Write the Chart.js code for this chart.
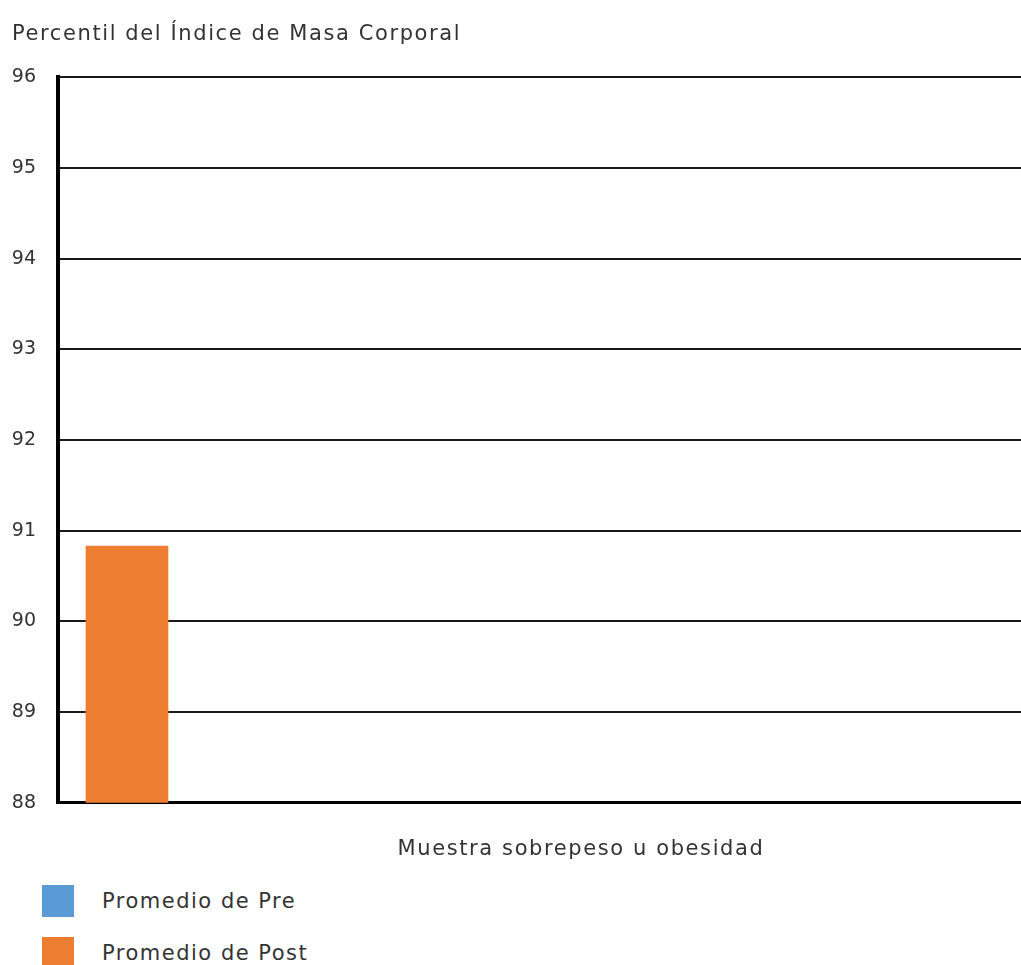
<!DOCTYPE html>
<html>
<head>
<meta charset="utf-8">
<script src="https://cdn.jsdelivr.net/npm/chart.js@4"></script>
<style>
  body { margin: 0; background: #fff; overflow: hidden; font-family: 'DejaVu Sans', Verdana, sans-serif; }
  #wrap { position: relative; width: 1110px; height: 875px; }
  #legend { position: absolute; left: 42px; top: 885px; }
  .item { display: flex; align-items: center; height: 32px; margin-bottom: 20px; color: #333; font-size: 21px; letter-spacing: 1.5px; }
  .swatch { width: 32px; height: 32px; margin-right: 28px; }
</style>
</head>
<body>
<div id="wrap"><canvas id="bmiChart"></canvas></div>
<div id="legend"></div>
<script>
// chart data
const categories = ['Muestra sobrepeso u obesidad'];
const seriesNames = ['Promedio de Pre', 'Promedio de Post'];
const seriesColors = ['#5B9BD5', '#ED7D31'];
const preValues = [null];
const postValues = [90.83];
const yMin = 88;
const yMax = 96;

const toPoints = values => values.map((v, i) => ({ x: i + 0.5, y: v }));

const textColor = '#333';
const family = "'DejaVu Sans', Verdana, sans-serif";
const labelFont = { family, size: 21 };
const tickFont = { family, size: 19 };

// the original labels are set a little wider than the tick numbers
const wideText = {
  id: 'wideText',
  beforeDraw: chart => { chart.ctx.letterSpacing = '1.6px'; },
  beforeDatasetsDraw: chart => { chart.ctx.letterSpacing = '0px'; }
};

const chart = new Chart(document.getElementById('bmiChart'), {
  type: 'bar',
  data: {
    datasets: [
      { label: seriesNames[0], data: toPoints(preValues), backgroundColor: seriesColors[0] },
      { label: seriesNames[1], data: toPoints(postValues), backgroundColor: seriesColors[1] }
    ]
  },
  options: {
    responsive: true,
    maintainAspectRatio: false,
    animation: false,
    grouped: false,
    barThickness: 82,
    layout: { padding: { left: 12, right: 6 } },
    plugins: {
      legend: { display: false },
      tooltip: { enabled: false },
      title: {
        display: true,
        text: 'Percentil del Índice de Masa Corporal',
        align: 'start',
        color: textColor,
        font: { ...labelFont, weight: 'normal' },
        padding: { top: 22, bottom: 30 }
      }
    },
    scales: {
      x: {
        type: 'linear',
        offset: false,
        min: 0,
        max: 7.58,
        ticks: { display: false },
        grid: { display: false, drawTicks: false },
        border: { color: '#000', width: 3 },
        title: {
          display: true,
          text: categories[0],
          color: textColor,
          font: labelFont,
          padding: { top: 34, bottom: 13 }
        }
      },
      y: {
        min: yMin,
        max: yMax,
        ticks: { stepSize: 1, color: textColor, font: tickFont, padding: 22, z: 1 },
        grid: { color: '#1a1a1a', lineWidth: 2, drawTicks: false },
        border: { color: '#000', width: 4 },
        afterFit: scale => { scale.width = 46; }
      }
    }
  },
  plugins: [wideText]
});

// legend built from the datasets, stacked vertically like the original
const legend = document.getElementById('legend');
chart.data.datasets.forEach(ds => {
  const item = document.createElement('div');
  item.className = 'item';
  const sw = document.createElement('span');
  sw.className = 'swatch';
  sw.style.background = ds.backgroundColor;
  const label = document.createElement('span');
  label.textContent = ds.label;
  item.appendChild(sw);
  item.appendChild(label);
  legend.appendChild(item);
});
</script>
</body>
</html>
